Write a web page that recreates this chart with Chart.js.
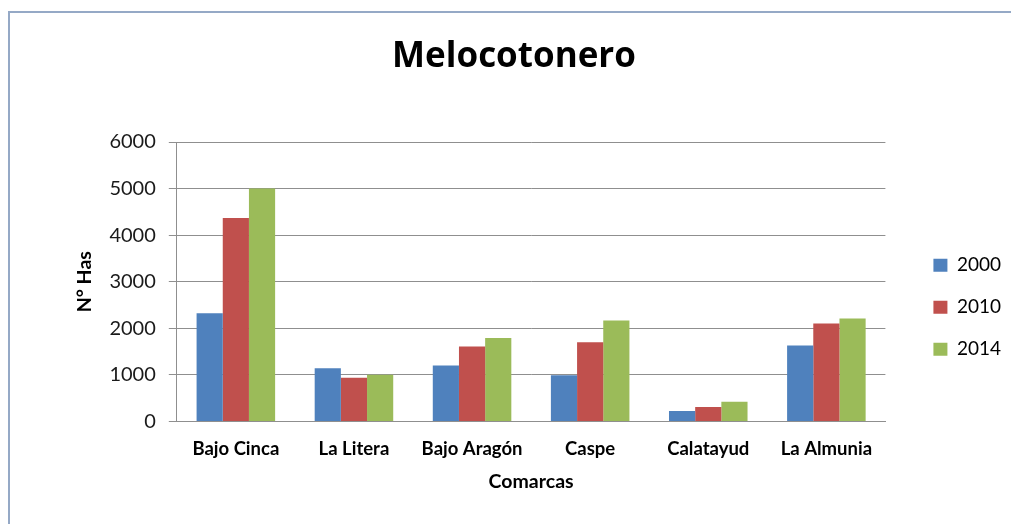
<!DOCTYPE html>
<html>
<head>
<meta charset="utf-8">
<script src="https://cdn.jsdelivr.net/npm/chart.js@4.4.1/dist/chart.umd.min.js"></script>
<style>
  html, body { margin: 0; padding: 0; background: #fff; overflow: hidden; }
  .frame {
    position: absolute;
    left: 8px;
    top: 11px;
    width: 1010px;
    height: 511px;
    border-left: 2px solid #95a9c6;
    border-top: 2px solid #95a9c6;
  }
  .frame canvas { display: block; }
</style>
</head>
<body>
<div class="frame">
  <canvas id="chart" width="1010" height="511"></canvas>
</div>
<script>
const categories = ["Bajo Cinca", "La Litera", "Bajo Aragón", "Caspe", "Calatayud", "La Almunia"];
const seriesNames = ["2000", "2010", "2014"];
const values2000 = [2320, 1140, 1200, 990, 225, 1630];
const values2010 = [4370, 940, 1610, 1700, 310, 2100];
const values2014 = [5000, 1000, 1790, 2165, 420, 2210];
const yTicks = [0, 1000, 2000, 3000, 4000, 5000, 6000];

const colors = ["#4f81bd", "#c0504d", "#9bbb59"];

Chart.defaults.font.family = "Lato";
Chart.defaults.color = "#000";

const dataSets = [values2000, values2010, values2014].map((vals, i) => ({
  label: seriesNames[i],
  data: vals,
  backgroundColor: colors[i],
  borderWidth: 0,
  categoryPercentage: 0.665,
  barPercentage: 1.0,
}));

new Chart(document.getElementById("chart"), {
  type: "bar",
  data: { labels: categories, datasets: dataSets },
  options: {
    responsive: false,
    animation: false,
    // small left padding so the title stays centred on the whole frame
    layout: { padding: { left: 7, right: 9, top: 0, bottom: 27 } },
    plugins: {
      title: {
        display: true,
        text: "Melocotonero",
        font: { family: "Open Sans", size: 35, weight: "bold" },
        color: "#000",
        padding: { top: 23, bottom: 64 },
      },
      legend: {
        position: "right",
        fullSize: false,
        // empty title only pushes the entries down
        title: { display: true, text: " ", font: { size: 16 }, padding: { top: 0, bottom: 32 } },
        labels: {
          boxWidth: 14,
          boxHeight: 13,
          padding: 23,
          font: { size: 19 },
          color: "#000",
        },
      },
      tooltip: { enabled: false },
    },
    scales: {
      x: {
        grid: { display: false, tickLength: 17 },
        border: { color: "#8f8f8f" },
        ticks: {
          padding: 0,
          maxRotation: 0,
          font: { size: 18.5, weight: "bold" },
          color: "#000",
        },
        title: {
          display: true,
          text: "Comarcas",
          font: { size: 19.5, weight: "bold" },
          color: "#000",
          padding: { top: 9, bottom: 4 },
        },
      },
      y: {
        min: 0,
        max: 6000,
        afterBuildTicks: (scale) => {
          scale.ticks = yTicks.map((v) => ({ value: v }));
        },
        grid: { color: "#8f8f8f", tickLength: 8, lineWidth: 1 },
        border: { color: "#8f8f8f" },
        ticks: {
          padding: 13,
          font: { size: 20 },
          color: "#1a1a1a",
          callback: (v) => String(v),
        },
        title: {
          display: true,
          text: "N° Has",
          font: { size: 19.5, weight: "bold" },
          color: "#000",
          padding: { top: 56, bottom: 0 },
        },
      },
      gap: {
        position: "right",
        grid: { display: false },
        border: { display: false },
        ticks: { display: false },
        afterFit: (scale) => {
          scale.width = 25;
        },
      },
    },
  },
});
</script>
</body>
</html>
